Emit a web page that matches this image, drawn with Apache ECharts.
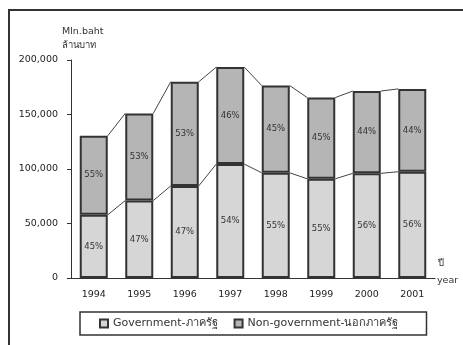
<!DOCTYPE html>
<html><head><meta charset="utf-8">
<script src="https://cdn.jsdelivr.net/npm/echarts@6/dist/echarts.min.js"></script>
<style>html,body{margin:0;padding:0;background:#fff}#c{width:463px;height:345px}</style>
</head><body><div id="c"></div>
<script>
const years = ['1994','1995','1996','1997','1998','1999','2000','2001'];
const government = [58000, 71000, 84500, 104500, 96500, 91000, 96000, 97500];
const nonGovernment = [72500, 80000, 95500, 89000, 80000, 74500, 75500, 76000];
const govPct = ['45%','47%','47%','54%','55%','55%','56%','56%'];
const nonGovPct = ['55%','53%','53%','46%','45%','45%','44%','44%'];
const yTicks = [0, 50000, 100000, 150000, 200000];
const totals = government.map((g, i) => g + nonGovernment[i]);

const FONT = 'DejaVu Sans, Noto Sans, sans-serif';
const chart = echarts.init(document.getElementById('c'), null, {renderer: 'canvas'});
const BW = 28;

const option = {
  animation: false,
  textStyle: {fontFamily: FONT},
  grid: {left: 71, right: 28, top: 60, bottom: 67, containLabel: false},
  legend: {
    left: 80, top: 312,
    padding: [6, 28, 6, 19],
    borderColor: '#333', borderWidth: 1.5,
    itemWidth: 8, itemHeight: 8, itemGap: 16,
    textStyle: {fontSize: 11, color: '#333', fontFamily: FONT},
    data: [{name: 'Government-ภาครัฐ', icon: 'rect'}, {name: 'Non-government-นอกภาครัฐ', icon: 'rect'}]
  },
  xAxis: {
    type: 'category', data: years,
    axisLine: {lineStyle: {color: '#333', width: 1}},
    axisTick: {show: false},
    axisLabel: {fontSize: 9.5, color: '#222', margin: 12}
  },
  yAxis: {
    type: 'value', min: 0, max: 200000, interval: 50000,
    axisLine: {show: true, lineStyle: {color: '#333', width: 1}},
    axisTick: {show: true, length: 4, lineStyle: {color: '#333'}},
    splitLine: {show: false},
    axisLabel: {fontSize: 9.5, color: '#222', margin: 13,
      formatter: v => yTicks.includes(v) ? v.toLocaleString('en-US') : ''}
  },
  series: [
    {
      name: 'Government-ภาครัฐ', type: 'bar', stack: 's', barWidth: BW,
      data: government,
      itemStyle: {color: '#d6d6d6', borderColor: '#333', borderWidth: 2},
      label: {show: true, position: 'inside', fontSize: 8.5, color: '#333',
        formatter: p => govPct[p.dataIndex]}
    },
    {
      name: 'Non-government-นอกภาครัฐ', type: 'bar', stack: 's', barWidth: BW,
      data: nonGovernment,
      itemStyle: {color: '#b5b5b5', borderColor: '#333', borderWidth: 2},
      label: {show: true, position: 'inside', fontSize: 8.5, color: '#333',
        formatter: p => nonGovPct[p.dataIndex]}
    },
    {
      type: 'custom', silent: true, z: 1,
      data: years.slice(0, -1).map((y, i) => i),
      renderItem: function (params, api) {
        const i = params.dataIndex;
        const children = [];
        [government, totals].forEach(arr => {
          const a = api.coord([i, arr[i]]);
          const b = api.coord([i + 1, arr[i + 1]]);
          children.push({type: 'line', shape: {x1: a[0] + BW / 2, y1: a[1], x2: b[0] - BW / 2, y2: b[1]},
            style: {stroke: '#444', lineWidth: 1}});
        });
        return {type: 'group', children};
      }
    }
  ],
  graphic: [
    {type: 'rect', shape: {x: 9, y: 10, width: 470, height: 350}, style: {fill: 'none', stroke: '#333', lineWidth: 2}},
    {type: 'text', left: 62, top: 27, style: {text: 'Mln.baht', fontSize: 9.5, fill: '#333', fontFamily: FONT}},
    {type: 'text', left: 62, top: 41, style: {text: 'ล้านบาท', fontSize: 9.5, fill: '#333', fontFamily: FONT}},
    {type: 'text', left: 438, top: 259, style: {text: 'ปี', fontSize: 9.5, fill: '#333', fontFamily: FONT}},
    {type: 'text', left: 437, top: 276, style: {text: 'year', fontSize: 9.5, fill: '#333', fontFamily: FONT}}
  ]
};
chart.setOption(option);
</script></body></html>
